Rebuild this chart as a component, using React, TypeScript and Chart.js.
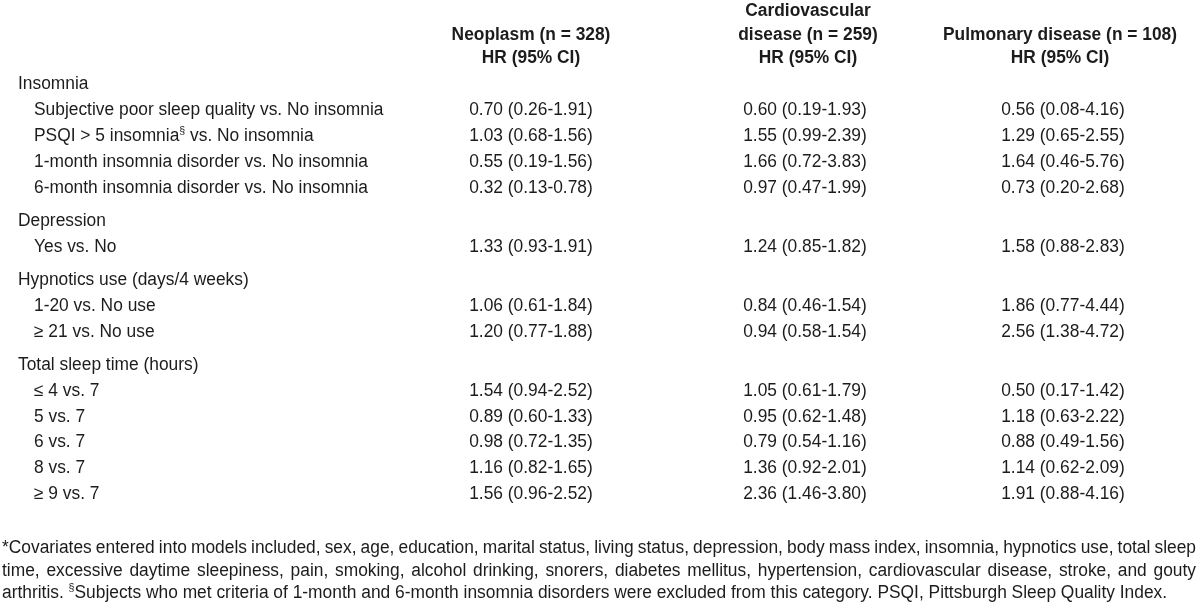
import React, { useEffect, useRef } from "react";
import { Chart, registerables } from "chart.js";

Chart.register(...registerables);

// ---------- data ----------
const groupTitles = [
  "Insomnia",
  "Depression",
  "Hypnotics use (days/4 weeks)",
  "Total sleep time (hours)",
];

const rowLabels = [
  "Subjective poor sleep quality vs. No insomnia",
  "PSQI > 5 insomnia{§} vs. No insomnia",
  "1-month insomnia disorder vs. No insomnia",
  "6-month insomnia disorder vs. No insomnia",
  "Yes vs. No",
  "1-20 vs. No use",
  "≥ 21 vs. No use",
  "≤ 4 vs. 7",
  "5 vs. 7",
  "6 vs. 7",
  "8 vs. 7",
  "≥ 9 vs. 7",
];

const rowGroup = [0, 0, 0, 0, 1, 2, 2, 3, 3, 3, 3, 3];

const neoplasmHR = [
  "0.70 (0.26-1.91)",
  "1.03 (0.68-1.56)",
  "0.55 (0.19-1.56)",
  "0.32 (0.13-0.78)",
  "1.33 (0.93-1.91)",
  "1.06 (0.61-1.84)",
  "1.20 (0.77-1.88)",
  "1.54 (0.94-2.52)",
  "0.89 (0.60-1.33)",
  "0.98 (0.72-1.35)",
  "1.16 (0.82-1.65)",
  "1.56 (0.96-2.52)",
];

const cardiovascularHR = [
  "0.60 (0.19-1.93)",
  "1.55 (0.99-2.39)",
  "1.66 (0.72-3.83)",
  "0.97 (0.47-1.99)",
  "1.24 (0.85-1.82)",
  "0.84 (0.46-1.54)",
  "0.94 (0.58-1.54)",
  "1.05 (0.61-1.79)",
  "0.95 (0.62-1.48)",
  "0.79 (0.54-1.16)",
  "1.36 (0.92-2.01)",
  "2.36 (1.46-3.80)",
];

const pulmonaryHR = [
  "0.56 (0.08-4.16)",
  "1.29 (0.65-2.55)",
  "1.64 (0.46-5.76)",
  "0.73 (0.20-2.68)",
  "1.58 (0.88-2.83)",
  "1.86 (0.77-4.44)",
  "2.56 (1.38-4.72)",
  "0.50 (0.17-1.42)",
  "1.18 (0.63-2.22)",
  "0.88 (0.49-1.56)",
  "1.14 (0.62-2.09)",
  "1.91 (0.88-4.16)",
];

const columnHeaders = [
  ["Neoplasm (n = 328)", "HR (95% CI)"],
  ["Cardiovascular", "disease (n = 259)", "HR (95% CI)"],
  ["Pulmonary disease (n = 108)", "HR (95% CI)"],
];

const footnoteLines = [
  "*Covariates entered into models included, sex, age, education, marital status, living status, depression, body mass index, insomnia, hypnotics use, total sleep",
  "time, excessive daytime sleepiness, pain, smoking, alcohol drinking, snorers, diabetes mellitus, hypertension, cardiovascular disease, stroke, and gouty",
  "arthritis. {§}Subjects who met criteria of 1-month and 6-month insomnia disorders were excluded from this category. PSQI, Pittsburgh Sleep Quality Index.",
];
const footnoteJustified = [true, true, false];

// ---------- layout (positions / styles) ----------
const W = 1200;
const H = 615;
const LABEL_X_GROUP = 18;
const LABEL_X_ITEM = 34;
const VALUE_X = [531, 805, 1063];
const HEADER_X = [531, 808, 1060];
const HEADER_BOTTOM_Y = 57;
const HEADER_LINE_STEP = 23.5;
const FIRST_ROW_Y = 83;
const ROW_STEP = 25.9;
const GROUP_STEP = 33;
const FOOT_X0 = 2;
const FOOT_X1 = 1196;
const FOOT_Y0 = 547;
const FOOT_STEP = 22.3;
const FONT_FAMILY = "'Liberation Sans', Arial, sans-serif";
const FONT_SIZE = 18;
const SCALE_X = 0.965;
const TEXT_COLOR = "#1c1c1c";

// compute row y (in scale units)
function buildRowPositions() {
  const groupY: number[] = [];
  const itemY: number[] = [];
  let y = FIRST_ROW_Y - ROW_STEP;
  let lastGroup = -1;
  rowGroup.forEach((g, i) => {
    if (g !== lastGroup) {
      y += lastGroup === -1 ? ROW_STEP : GROUP_STEP;
      groupY[g] = y;
      lastGroup = g;
    }
    y += ROW_STEP;
    itemY[i] = y;
  });
  return { groupY, itemY };
}

type Seg = { t: string; sup: boolean };
function parseSegs(s: string): Seg[] {
  const out: Seg[] = [];
  const re = /\{([^}]*)\}/g;
  let last = 0;
  let m: RegExpExecArray | null;
  while ((m = re.exec(s))) {
    if (m.index > last) out.push({ t: s.slice(last, m.index), sup: false });
    out.push({ t: m[1], sup: true });
    last = m.index + m[0].length;
  }
  if (last < s.length) out.push({ t: s.slice(last), sup: false });
  return out;
}

function fontStr(bold: boolean, sup: boolean) {
  return `${bold ? "bold " : ""}${sup ? Math.round(FONT_SIZE * 0.6) : FONT_SIZE}px ${FONT_FAMILY}`;
}

function measureSegs(ctx: CanvasRenderingContext2D, segs: Seg[], bold: boolean) {
  let w = 0;
  for (const sg of segs) {
    ctx.font = fontStr(bold, sg.sup);
    w += ctx.measureText(sg.t).width;
  }
  return w;
}

function drawRich(
  ctx: CanvasRenderingContext2D,
  text: string,
  x: number,
  y: number,
  align: "left" | "center",
  bold = false
) {
  const segs = parseSegs(text);
  ctx.save();
  ctx.translate(x, y);
  ctx.scale(SCALE_X, 1);
  ctx.fillStyle = TEXT_COLOR;
  ctx.textBaseline = "alphabetic";
  ctx.textAlign = "left";
  const w = measureSegs(ctx, segs, bold);
  let cx = align === "center" ? -w / 2 : 0;
  const base = FONT_SIZE * 0.36;
  for (const sg of segs) {
    ctx.font = fontStr(bold, sg.sup);
    ctx.fillText(sg.t, cx, sg.sup ? base - FONT_SIZE * 0.42 : base);
    cx += ctx.measureText(sg.t).width;
  }
  ctx.restore();
}

function drawJustified(
  ctx: CanvasRenderingContext2D,
  text: string,
  x0: number,
  x1: number,
  y: number
) {
  const words = text.split(" ");
  ctx.save();
  ctx.translate(x0, y);
  ctx.scale(SCALE_X, 1);
  ctx.fillStyle = TEXT_COLOR;
  ctx.textBaseline = "alphabetic";
  const target = (x1 - x0) / SCALE_X;
  const widths = words.map((wd) => measureSegs(ctx, parseSegs(wd), false));
  const total = widths.reduce((a, b) => a + b, 0);
  const gap = (target - total) / (words.length - 1);
  let cx = 0;
  const base = FONT_SIZE * 0.36;
  words.forEach((wd, i) => {
    let px = cx;
    for (const sg of parseSegs(wd)) {
      ctx.font = fontStr(false, sg.sup);
      ctx.fillText(sg.t, px, sg.sup ? base - FONT_SIZE * 0.42 : base);
      px += ctx.measureText(sg.t).width;
    }
    cx += widths[i] + gap;
  });
  ctx.restore();
}

export default function App() {
  const ref = useRef<HTMLCanvasElement | null>(null);

  useEffect(() => {
    document.body.style.margin = "0";
    const canvas = ref.current;
    if (!canvas) return;
    const { groupY, itemY } = buildRowPositions();

    const valueColumns = [neoplasmHR, cardiovascularHR, pulmonaryHR];

    const datasets: any[] = [];
    datasets.push({
      label: "groups",
      kind: "group",
      texts: groupTitles,
      data: groupTitles.map((_, g) => ({ x: LABEL_X_GROUP, y: groupY[g] })),
    });
    datasets.push({
      label: "rows",
      kind: "row",
      texts: rowLabels,
      data: rowLabels.map((_, i) => ({ x: LABEL_X_ITEM, y: itemY[i] })),
    });
    valueColumns.forEach((col, c) => {
      datasets.push({
        label: "col" + c,
        kind: "value",
        texts: col,
        data: col.map((_, i) => ({ x: VALUE_X[c], y: itemY[i] })),
      });
    });
    columnHeaders.forEach((lines, c) => {
      const n = lines.length;
      datasets.push({
        label: "head" + c,
        kind: "header",
        texts: lines,
        data: lines.map((_, k) => ({
          x: HEADER_X[c],
          y: HEADER_BOTTOM_Y - (n - 1 - k) * HEADER_LINE_STEP,
        })),
      });
    });
    datasets.push({
      label: "foot",
      kind: "foot",
      texts: footnoteLines,
      data: footnoteLines.map((_, k) => ({ x: FOOT_X0, y: FOOT_Y0 + k * FOOT_STEP })),
    });

    datasets.forEach((d) => {
      d.pointRadius = 0;
      d.pointHoverRadius = 0;
      d.showLine = false;
    });

    const textPlugin = {
      id: "tableText",
      afterDatasetsDraw(chart: any) {
        const ctx = chart.ctx as CanvasRenderingContext2D;
        const xs = chart.scales.x;
        chart.data.datasets.forEach((ds: any, di: number) => {
          const meta = chart.getDatasetMeta(di);
          meta.data.forEach((el: any, i: number) => {
            const t = ds.texts[i];
            const x = el.x;
            const y = el.y;
            if (ds.kind === "group" || ds.kind === "row") {
              drawRich(ctx, t, x, y, "left");
            } else if (ds.kind === "value") {
              drawRich(ctx, t, x, y, "center");
            } else if (ds.kind === "header") {
              drawRich(ctx, t, x, y, "center", true);
            } else if (ds.kind === "foot") {
              if (footnoteJustified[i]) {
                drawJustified(ctx, t, x, xs.getPixelForValue(FOOT_X1), y);
              } else {
                drawRich(ctx, t, x, y, "left");
              }
            }
          });
        });
      },
    };

    const chart = new Chart(canvas, {
      type: "scatter",
      data: { datasets },
      options: {
        animation: false,
        responsive: false,
        maintainAspectRatio: false,
        layout: { padding: 0 },
        events: [],
        plugins: {
          legend: { display: false },
          tooltip: { enabled: false },
          title: { display: false },
        },
        scales: {
          x: { type: "linear", min: 0, max: W, display: false },
          y: { type: "linear", min: 0, max: H, reverse: true, display: false },
        },
      } as any,
      plugins: [textPlugin],
    });

    return () => chart.destroy();
  }, []);

  return (
    <div style={{ width: W, height: H, background: "#fff" }}>
      <canvas ref={ref} width={W} height={H} style={{ display: "block" }} />
    </div>
  );
}
